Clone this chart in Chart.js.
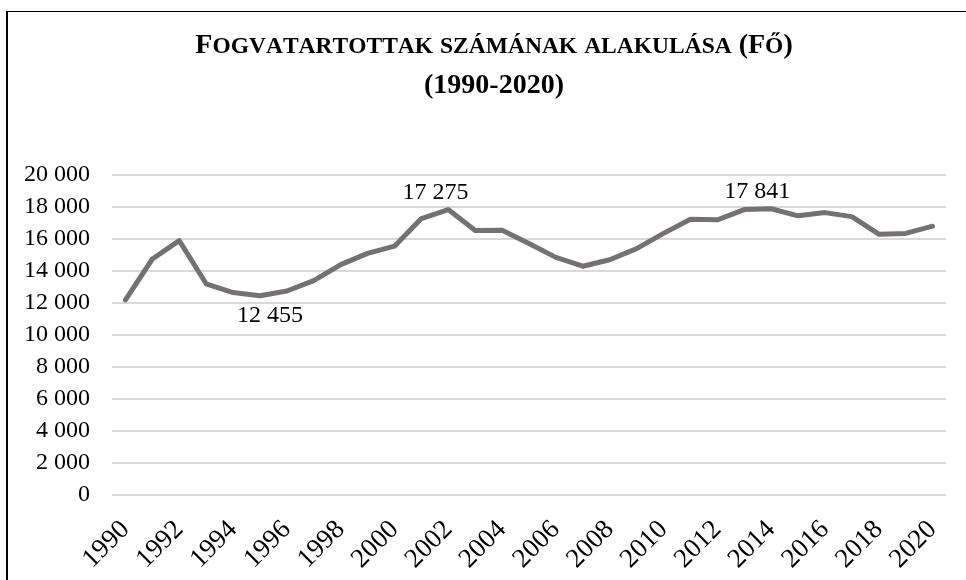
<!DOCTYPE html>
<html>
<head>
<meta charset="utf-8">
<script src="https://cdn.jsdelivr.net/npm/chart.js@4/dist/chart.umd.min.js"></script>
<style>
  html, body { margin: 0; padding: 0; background: #fff; }
  #wrap { width: 966px; height: 580px; position: relative; }
</style>
</head>
<body>
<div id="wrap"><canvas id="c" width="966" height="580"></canvas></div>
<script>
// ---- data ----
const titleLines = ['Fogvatartottak számának alakulása (Fő)', '(1990-2020)'];
const years = ['1990','1991','1992','1993','1994','1995','1996','1997','1998','1999',
               '2000','2001','2002','2003','2004','2005','2006','2007','2008','2009',
               '2010','2011','2012','2013','2014','2015','2016','2017','2018','2019','2020'];
const prisoners = [12200, 14750, 15900, 13200, 12650, 12455, 12750, 13400, 14400, 15100,
                   15550, 17275, 17838, 16530, 16540, 15720, 14850, 14300, 14700, 15400,
                   16350, 17230, 17200, 17841, 17890, 17450, 17650, 17400, 16300, 16350, 16800];
const labelledYears = ['1995', '2001', '2013'];
const yMin = 0, yMax = 20000, yStep = 2000;

function fmt(v) { return String(v).replace(/\B(?=(\d{3})+(?!\d))/g, ' '); }

const SERIF = "'Liberation Serif', 'Times New Roman', serif";

// white background + frame
const framePlugin = {
  id: 'frame',
  beforeDraw(chart) {
    const ctx = chart.ctx;
    ctx.save();
    ctx.fillStyle = '#fff';
    ctx.fillRect(0, 0, chart.width, chart.height);
    ctx.fillStyle = '#000';
    ctx.fillRect(6, 11, 2, chart.height);
    ctx.fillRect(6, 11, chart.width, 1);
    ctx.restore();
  }
};

// small-caps title
const titlePlugin = {
  id: 'scTitle',
  afterDraw(chart, args, opts) {
    const ctx = chart.ctx;
    ctx.save();
    ctx.fillStyle = '#000';
    ctx.textBaseline = 'alphabetic';
    const big = opts.bigSize, small = opts.smallSize;
    opts.lines.forEach((line, li) => {
      const segs = [];
      for (const ch of line) {
        const isLower = ch !== ch.toUpperCase();
        segs.push({ t: isLower ? ch.toUpperCase() : ch, s: isLower ? small : big });
      }
      let total = 0;
      segs.forEach(sg => {
        ctx.font = 'bold ' + sg.s + 'px ' + SERIF;
        sg.w = ctx.measureText(sg.t).width;
        total += sg.w;
      });
      let x = opts.cx - total / 2;
      const y = opts.baselines[li];
      ctx.textAlign = 'left';
      segs.forEach(sg => {
        ctx.font = 'bold ' + sg.s + 'px ' + SERIF;
        ctx.fillText(sg.t, x, y);
        x += sg.w;
      });
    });
    ctx.restore();
  }
};

// point value labels
const valueLabelPlugin = {
  id: 'valueLabels',
  afterDatasetsDraw(chart, args, opts) {
    const ctx = chart.ctx;
    const meta = chart.getDatasetMeta(0);
    ctx.save();
    ctx.font = opts.size + 'px ' + SERIF;
    ctx.fillStyle = '#000';
    ctx.textAlign = 'center';
    ctx.textBaseline = 'middle';
    labelledYears.forEach((yr, k) => {
      const i = years.indexOf(yr);
      const pt = meta.data[i];
      const off = opts.offsets[k];
      ctx.fillText(fmt(prisoners[i]), pt.x + off[0], pt.y + off[1]);
    });
    ctx.restore();
  }
};

new Chart(document.getElementById('c'), {
  type: 'line',
  data: {
    labels: years,
    datasets: [{
      data: prisoners,
      borderColor: '#767171',
      borderWidth: 5,
      borderJoinStyle: 'round',
      borderCapStyle: 'round',
      pointRadius: 0,
      pointHoverRadius: 0,
      tension: 0,
      fill: false
    }]
  },
  options: {
    responsive: false,
    animation: false,
    layout: { padding: { top: 175, left: 0, right: 20, bottom: 0 } },
    plugins: {
      legend: { display: false },
      tooltip: { enabled: false },
      title: { display: false },
      scTitle: { lines: titleLines, bigSize: 28, smallSize: 23.5, cx: 494, baselines: [53, 93] },
      valueLabels: { size: 24, offsets: [[10, 20], [14, -26], [13, -18]] }
    },
    scales: {
      x: {
        type: 'category',
        offset: true,
        grid: { display: false, drawTicks: false },
        border: { display: false },
        afterFit(scale) {
          scale.height = 85;
          scale.paddingLeft = 0;
          scale.paddingRight = 0;
        },
        ticks: {
          autoSkip: false,
          minRotation: 45,
          maxRotation: 45,
          padding: 19,
          color: '#000',
          font: { family: SERIF, size: 27 },
          callback: function(val, i) { return i % 2 === 0 ? years[i] : ''; }
        }
      },
      y: {
        min: yMin,
        max: yMax,
        grid: { color: '#d9d9d9', lineWidth: 2, drawTicks: false },
        border: { display: false },
        afterFit(scale) { scale.width = 112; },
        ticks: {
          stepSize: yStep,
          padding: 22,
          color: '#000',
          font: { family: SERIF, size: 24 },
          callback: v => fmt(v)
        }
      }
    }
  },
  plugins: [framePlugin, titlePlugin, valueLabelPlugin]
});
</script>
</body>
</html>
